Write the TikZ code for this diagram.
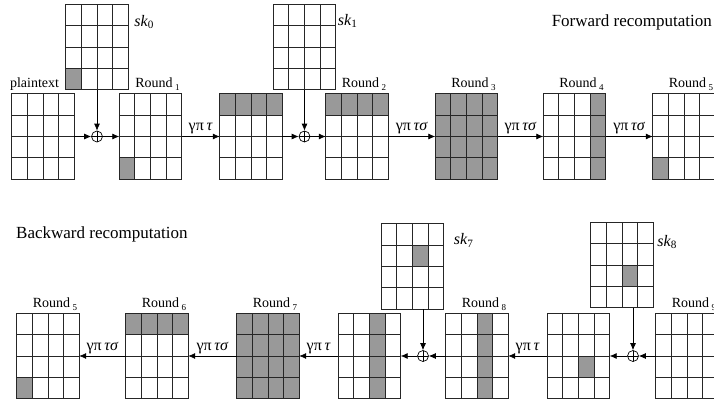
\documentclass[tikz,border=0pt]{standalone}
\usepackage{fontspec}
\setmainfont{Liberation Serif}
\usetikzlibrary{arrows.meta, positioning, calc}

% inner lines and frame of a 4x4 state
\newcommand{\cellgrid}[1]{%
  \foreach \i in {1,2,3} {
    \draw[cellline] ($(#1.north west)!\i/4!(#1.north east)$) --
      ($(#1.south west)!\i/4!(#1.south east)$);
    \draw[cellline] ($(#1.north west)!\i/4!(#1.south west)$) --
      ($(#1.north east)!\i/4!(#1.south east)$);
  }
  \draw[cellline] (#1.north west) rectangle (#1.south east);
}
% shade cells (column/row) of a state
\newcommand{\markcells}[2]{%
  \foreach \c/\r in {#2}
    \fill[cellfill] ($(#1.north west)+({(\c-1)*15.5},{-(\r-1)*21.25})$)
      rectangle ++(15.5,-21.25);
}
% lowered small index
\newcommand{\idx}[1]{\,\raisebox{-3pt}{\fontsize{9}{10}\selectfont #1}}

\begin{document}
\begin{tikzpicture}[x=1pt, y=1pt,
      font=\fontsize{14}{16}\selectfont,
      state/.style={minimum width=62pt, minimum height=85pt, inner sep=0pt},
      cellline/.style={line width=1pt, draw=black!85},
      cellfill/.style={fill=black!40},
      xorop/.style={circle, draw, line width=0.7pt, minimum size=11pt,
        inner sep=0pt, path picture={
          \draw[line width=0.6pt] (path picture bounding box.north) --
            (path picture bounding box.south)
            (path picture bounding box.west) --
            (path picture bounding box.east);}},
      arrow/.style={-{Latex[length=7pt, width=6pt]}, line width=0.7pt},
      oplab/.style={anchor=base, inner sep=0pt, yshift=6pt,
        font=\fontsize{16}{18}\selectfont},
      roundlab/.style={anchor=base east, inner sep=0pt},
      keylab/.style={anchor=base west, inner sep=0pt,
        font=\fontsize{16}{18}\selectfont},
      title/.style={inner sep=0pt, font=\fontsize{17}{20}\selectfont}
    ]
    \useasboundingbox (0,0) rectangle (714,400);
    \clip (0,0) rectangle (714,400);

    % forward row
    \node[state] (plain) at (43,263.5) {};
    \node[state] (sk0) at (97,353) {};
    \node[xorop] (xor0) at (97,263.5) {};
    \node[state] (r1) at (150.5,263.5) {};
    \node[state] (t1) at (251,263.5) {};
    \node[state] (sk1) at (304.5,353) {};
    \node[xorop] (xor1) at (304.5,263.5) {};
    \node[state] (r2) at (357,263.5) {};
    \node[state] (r3) at (466.5,263.5) {};
    \node[state] (r4) at (574.5,263.5) {};
    \node[state] (r5) at (684,263.5) {};

    % backward row
    \node[state] (b5) at (48,44) {};
    \node[state] (b6) at (157,44) {};
    \node[state] (b7) at (268,44) {};
    \node[state] (u7) at (369.5,44) {};
    \node[xorop] (xor7) at (423,44) {};
    \node[state] (sk7) at (412.5,133.5) {};
    \node[state] (b8) at (477,44) {};
    \node[state] (u8) at (578.5,44) {};
    \node[xorop] (xor8) at (633,44) {};
    \node[state] (sk8) at (622,135) {};
    \node[state] (b9) at (687,44) {};

    \markcells{sk0}{1/4}
    \markcells{r1}{1/4}
    \markcells{t1}{1/1,2/1,3/1,4/1}
    \markcells{r2}{1/1,2/1,3/1,4/1}
    \fill[cellfill] (r3.north west) rectangle (r3.south east);
    \markcells{r4}{4/1,4/2,4/3,4/4}
    \markcells{r5}{1/4}
    \markcells{b5}{1/4}
    \markcells{b6}{1/1,2/1,3/1,4/1}
    \fill[cellfill] (b7.north west) rectangle (b7.south east);
    \markcells{u7}{3/1,3/2,3/3,3/4}
    \markcells{sk7}{3/2}
    \markcells{b8}{3/1,3/2,3/3,3/4}
    \markcells{u8}{3/3}
    \markcells{sk8}{3/3}

    \foreach \s in {plain,sk0,r1,t1,sk1,r2,r3,r4,r5,b5,b6,b7,u7,sk7,b8,u8,sk8,b9}
      {\cellgrid{\s}}

    \node[anchor=base west, inner sep=0pt] (ptlab)
      at ([shift={(-2,6)}]plain.north west) {plaintext};
    \foreach \s/\n in {r1/1,r2/2,r3/3,r4/4,r5/5,b5/5,b6/6,b7/7,b8/8,b9/9}
      \node[roundlab] (lab\s) at ([shift={(-2,6)}]\s.north east)
        {Round\idx{\n}};
    \node[keylab] (sk0lab) at ([shift={(6,-22)}]sk0.north east)
      {\textit{sk}\textsubscript{0}};
    \node[keylab] (sk1lab) at ([shift={(2,-21)}]sk1.north east)
      {\textit{sk}\textsubscript{1}};
    \node[keylab] (sk7lab) at ([shift={(10,-21)}]sk7.north east)
      {\textit{sk}\textsubscript{7}};
    \node[keylab] (sk8lab) at ([shift={(4,-24)}]sk8.north east)
      {\textit{sk}\textsubscript{8}};

    \node[title, anchor=base east] (fwd) at (712,373) {Forward recomputation};
    \node[title, anchor=base west] (bwd) at (16,162) {Backward recomputation};

    \draw[arrow] (plain.east) -- (xor0);
    \draw[arrow] (sk0) -- (xor0);
    \draw[arrow] (xor0) -- (r1);
    \draw[arrow] (r1) -- node[oplab]{γπ\,\textit{τ}} (t1);
    \draw[arrow] (t1) -- (xor1);
    \draw[arrow] (sk1) -- (xor1);
    \draw[arrow] (xor1) -- (r2);
    \draw[arrow] (r2) -- node[oplab]{γπ\,\textit{τσ}} (r3);
    \draw[arrow] (r3) -- node[oplab]{γπ\,\textit{τσ}} (r4);
    \draw[arrow] (r4) -- node[oplab]{γπ\,\textit{τσ}} (r5);

    \draw[arrow] (b9) -- (xor8);
    \draw[arrow] (sk8.south -| xor8) -- (xor8);
    \draw[arrow] (xor8) -- (u8);
    \draw[arrow] (u8) -- node[oplab]{γπ\,\textit{τ}} (b8);
    \draw[arrow] (b8) -- (xor7);
    \draw[arrow] (sk7.south -| xor7) -- (xor7);
    \draw[arrow] (xor7) -- (u7);
    \draw[arrow] (u7) -- node[oplab]{γπ\,\textit{τ}} (b7);
    \draw[arrow] (b7) -- node[oplab]{γπ\,\textit{τσ}} (b6);
    \draw[arrow] (b6) -- node[oplab]{γπ\,\textit{τσ}} (b5);
  \end{tikzpicture}
\end{document}
